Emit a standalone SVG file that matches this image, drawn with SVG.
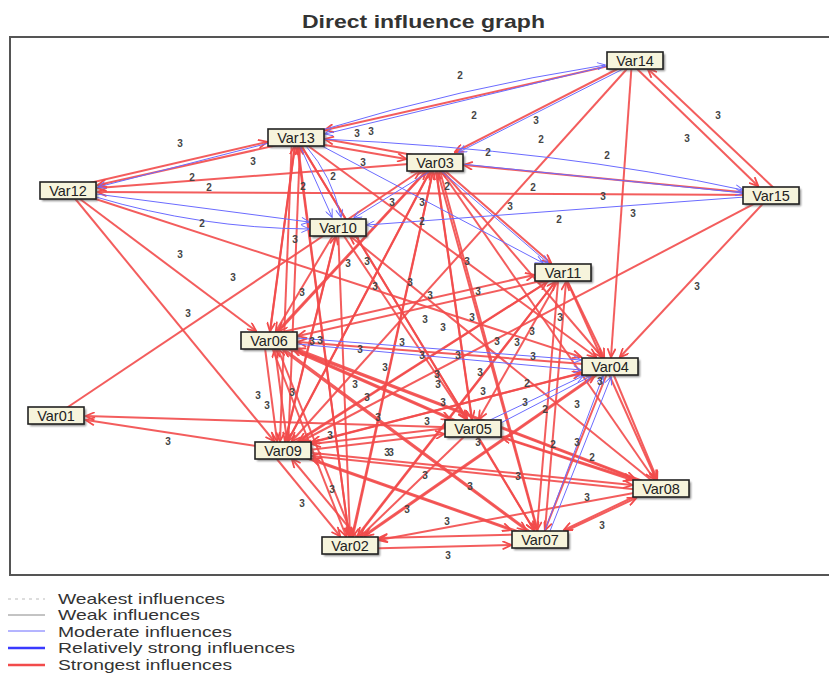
<svg xmlns="http://www.w3.org/2000/svg" width="829" height="675" viewBox="0 0 829 675">
<defs>
<marker id="ar" viewBox="0 0 10 10" refX="9.5" refY="5" markerWidth="11" markerHeight="9" markerUnits="userSpaceOnUse" orient="auto"><path d="M0,0.5 L10,5 L0,9.5" fill="none" stroke="#f24b4b" stroke-width="2"/></marker>
<marker id="ab" viewBox="0 0 10 10" refX="9.5" refY="5" markerWidth="10" markerHeight="8" markerUnits="userSpaceOnUse" orient="auto"><path d="M0,0.5 L10,5 L0,9.5" fill="none" stroke="#6b6bff" stroke-width="1.2"/></marker>
<filter id="shd" x="-20%" y="-30%" width="150%" height="180%"><feGaussianBlur stdDeviation="1"/></filter>
</defs>
<style>
.r{stroke:#f24b4b;stroke-width:2;fill:none;marker-end:url(#ar);stroke-opacity:0.9}
.b{stroke:#6b6bff;stroke-width:1;fill:none;marker-end:url(#ab)}
.lb text{font-family:"Liberation Sans",Arial,sans-serif;font-size:10px;fill:#444;text-anchor:middle;font-weight:bold}
.box{fill:#f6f4dc;stroke:#222;stroke-width:1.6}
.sh{fill:#555;opacity:0.7;filter:url(#shd)}
.nt{font-family:"Liberation Sans",Arial,sans-serif;font-size:14.5px;fill:#222;text-anchor:middle}
.lg{font-family:"Liberation Sans",Arial,sans-serif;font-size:15px;fill:#333}
</style>
<rect x="0" y="0" width="829" height="675" fill="#ffffff"/>
<text x="302" y="28" font-family="Liberation Sans, Arial, sans-serif" font-size="17.5" font-weight="bold" fill="#333" textLength="243" lengthAdjust="spacingAndGlyphs">Direct influence graph</text>
<rect x="10" y="37" width="830" height="538" fill="none" stroke="#555" stroke-width="2"/>
<g id="connectors">
<line class="r" x1="68" y1="188" x2="267" y2="142"/>
<line class="r" x1="296" y1="141" x2="98" y2="185"/>
<line class="r" x1="435" y1="162" x2="98" y2="188"/>
<line class="r" x1="771" y1="195" x2="98" y2="192"/>
<line class="r" x1="635" y1="60" x2="325" y2="130"/>
<line class="r" x1="635" y1="60" x2="455" y2="152"/>
<line class="r" x1="632" y1="64" x2="758" y2="186"/>
<line class="r" x1="776" y1="190" x2="648" y2="69"/>
<line class="r" x1="632" y1="60" x2="611" y2="357"/>
<line class="r" x1="771" y1="195" x2="620" y2="357"/>
<line class="r" x1="771" y1="195" x2="464" y2="165"/>
<line class="r" x1="635" y1="60" x2="292" y2="441"/>
<line class="r" x1="771" y1="195" x2="302" y2="441"/>
<line class="r" x1="296" y1="140" x2="406" y2="159"/>
<line class="r" x1="435" y1="159" x2="325" y2="139"/>
<line class="r" x1="296" y1="137" x2="270" y2="331"/>
<line class="r" x1="292" y1="137" x2="280" y2="441"/>
<line class="r" x1="296" y1="137" x2="349" y2="536"/>
<line class="r" x1="296" y1="137" x2="467" y2="419"/>
<line class="r" x1="296" y1="137" x2="534" y2="530"/>
<line class="r" x1="296" y1="137" x2="596" y2="357"/>
<line class="r" x1="435" y1="162" x2="279" y2="331"/>
<line class="r" x1="435" y1="162" x2="288" y2="441"/>
<line class="r" x1="435" y1="162" x2="353" y2="536"/>
<line class="r" x1="435" y1="162" x2="472" y2="419"/>
<line class="r" x1="435" y1="162" x2="537" y2="530"/>
<line class="r" x1="435" y1="162" x2="551" y2="263"/>
<line class="r" x1="435" y1="162" x2="602" y2="357"/>
<line class="r" x1="435" y1="162" x2="654" y2="479"/>
<line class="r" x1="338" y1="227" x2="350" y2="536"/>
<line class="r" x1="338" y1="227" x2="466" y2="419"/>
<line class="r" x1="338" y1="227" x2="285" y2="441"/>
<line class="r" x1="338" y1="227" x2="276" y2="331"/>
<line class="r" x1="269" y1="340" x2="295" y2="146"/>
<line class="r" x1="288" y1="450" x2="300" y2="146"/>
<line class="r" x1="350" y1="545" x2="298" y2="146"/>
<line class="r" x1="269" y1="340" x2="426" y2="171"/>
<line class="r" x1="283" y1="450" x2="430" y2="171"/>
<line class="r" x1="350" y1="545" x2="433" y2="171"/>
<line class="r" x1="473" y1="428" x2="436" y2="171"/>
<line class="r" x1="540" y1="539" x2="440" y2="171"/>
<line class="r" x1="56" y1="415" x2="420" y2="171"/>
<line class="r" x1="283" y1="450" x2="336" y2="236"/>
<line class="r" x1="661" y1="488" x2="350" y2="236"/>
<line class="r" x1="563" y1="276" x2="298" y2="336"/>
<line class="r" x1="269" y1="335" x2="534" y2="275"/>
<line class="r" x1="563" y1="272" x2="299" y2="441"/>
<line class="r" x1="563" y1="272" x2="358" y2="536"/>
<line class="r" x1="563" y1="272" x2="604" y2="357"/>
<line class="r" x1="563" y1="272" x2="656" y2="479"/>
<line class="r" x1="558" y1="282" x2="537" y2="530"/>
<line class="r" x1="545" y1="530" x2="566" y2="282"/>
<line class="r" x1="563" y1="272" x2="479" y2="419"/>
<line class="r" x1="265" y1="348" x2="277" y2="441"/>
<line class="r" x1="287" y1="441" x2="275" y2="349"/>
<line class="r" x1="269" y1="340" x2="346" y2="536"/>
<line class="r" x1="354" y1="540" x2="278" y2="349"/>
<line class="r" x1="276" y1="458" x2="340" y2="536"/>
<line class="r" x1="356" y1="536" x2="292" y2="459"/>
<line class="r" x1="269" y1="340" x2="450" y2="419"/>
<line class="r" x1="269" y1="340" x2="635" y2="479"/>
<line class="r" x1="269" y1="340" x2="526" y2="530"/>
<line class="r" x1="283" y1="450" x2="547" y2="282"/>
<line class="r" x1="283" y1="450" x2="581" y2="373"/>
<line class="r" x1="283" y1="453" x2="444" y2="434"/>
<line class="r" x1="473" y1="425" x2="312" y2="444"/>
<line class="r" x1="283" y1="450" x2="632" y2="485"/>
<line class="r" x1="661" y1="492" x2="312" y2="456"/>
<line class="r" x1="283" y1="450" x2="511" y2="530"/>
<line class="r" x1="473" y1="428" x2="293" y2="349"/>
<line class="r" x1="473" y1="428" x2="361" y2="536"/>
<line class="r" x1="473" y1="428" x2="534" y2="530"/>
<line class="r" x1="473" y1="428" x2="632" y2="480"/>
<line class="r" x1="473" y1="428" x2="86" y2="416"/>
<line class="r" x1="283" y1="450" x2="86" y2="420"/>
<line class="r" x1="610" y1="366" x2="312" y2="442"/>
<line class="r" x1="610" y1="366" x2="298" y2="342"/>
<line class="r" x1="610" y1="366" x2="365" y2="536"/>
<line class="r" x1="610" y1="366" x2="545" y2="530"/>
<line class="r" x1="610" y1="366" x2="657" y2="479"/>
<line class="r" x1="661" y1="488" x2="297" y2="349"/>
<line class="r" x1="661" y1="488" x2="379" y2="540"/>
<line class="r" x1="661" y1="484" x2="564" y2="530"/>
<line class="r" x1="540" y1="543" x2="636" y2="498"/>
<line class="r" x1="350" y1="549" x2="511" y2="545"/>
<line class="r" x1="540" y1="534" x2="379" y2="538"/>
<line class="r" x1="540" y1="539" x2="284" y2="349"/>
<line class="r" x1="540" y1="539" x2="312" y2="459"/>
<line class="r" x1="68" y1="190" x2="256" y2="331"/>
<line class="r" x1="68" y1="190" x2="274" y2="441"/>
<line class="r" x1="68" y1="190" x2="581" y2="357"/>
<line class="r" x1="350" y1="545" x2="555" y2="282"/>
<line class="r" x1="350" y1="545" x2="595" y2="375"/>
<line class="r" x1="661" y1="488" x2="502" y2="437"/>
<path class="b" d="M322,130 Q460,88 605,65"/>
<line class="b" x1="607" y1="66" x2="325" y2="134"/>
<line class="b" x1="625" y1="68" x2="459" y2="152"/>
<path class="b" d="M322,139 Q560,150 743,190"/>
<line class="b" x1="462" y1="164" x2="743" y2="193"/>
<line class="b" x1="745" y1="197" x2="367" y2="225"/>
<line class="b" x1="96" y1="194" x2="309" y2="222"/>
<path class="b" d="M96,197 Q200,228 309,229"/>
<line class="b" x1="269" y1="143" x2="98" y2="187"/>
<line class="b" x1="300" y1="146" x2="332" y2="217"/>
<path class="b" d="M306,146 Q332,176 341,217"/>
<line class="b" x1="432" y1="170" x2="354" y2="218"/>
<line class="b" x1="320" y1="145" x2="543" y2="263"/>
<line class="b" x1="440" y1="170" x2="548" y2="263"/>
<line class="b" x1="297" y1="338" x2="581" y2="360"/>
<line class="b" x1="297" y1="344" x2="581" y2="370"/>
<line class="b" x1="490" y1="420" x2="583" y2="376"/>
<line class="b" x1="495" y1="426" x2="591" y2="376"/>
<line class="b" x1="545" y1="530" x2="603" y2="376"/>
<line class="b" x1="550" y1="531" x2="611" y2="377"/>
<g class="lb">
<text x="460" y="79">2</text><text x="474" y="119">2</text><text x="541" y="143">2</text><text x="488" y="156">2</text><text x="607" y="159">2</text><text x="533" y="191">2</text><text x="559" y="223">2</text><text x="422" y="225">2</text><text x="447" y="190">2</text><text x="192" y="181">2</text><text x="209" y="191">2</text><text x="202" y="227">2</text><text x="303" y="190">2</text><text x="333" y="180">2</text><text x="527" y="387">2</text><text x="545" y="413">2</text><text x="553" y="448">2</text><text x="592" y="461">2</text>
<text x="536" y="124">3</text><text x="718" y="119">3</text><text x="687" y="142">3</text><text x="603" y="200">3</text><text x="633" y="217">3</text><text x="510" y="210">3</text><text x="697" y="290">3</text><text x="357" y="137">3</text><text x="371" y="135">3</text><text x="363" y="166">3</text><text x="180" y="147">3</text><text x="253" y="165">3</text><text x="392" y="206">3</text><text x="422" y="206">3</text><text x="295" y="243">3</text><text x="180" y="258">3</text><text x="233" y="281">3</text><text x="188" y="317">3</text><text x="168" y="445">3</text><text x="302" y="296">3</text><text x="348" y="267">3</text><text x="367" y="265">3</text><text x="375" y="290">3</text><text x="410" y="286">3</text><text x="430" y="299">3</text><text x="467" y="265">3</text><text x="478" y="295">3</text><text x="425" y="323">3</text><text x="443" y="331">3</text><text x="472" y="321">3</text><text x="497" y="345">3</text><text x="517" y="346">3</text><text x="532" y="335">3</text><text x="560" y="321">3</text><text x="533" y="360">3</text><text x="402" y="346">3</text><text x="360" y="353">3</text><text x="422" y="359">3</text><text x="458" y="359">3</text><text x="312" y="345">3</text><text x="320" y="344">3</text><text x="385" y="371">3</text><text x="437" y="378">3</text><text x="438" y="388">3</text><text x="480" y="376">3</text><text x="355" y="388">3</text><text x="367" y="401">3</text><text x="443" y="406">3</text><text x="483" y="395">3</text><text x="525" y="406">3</text><text x="577" y="408">3</text><text x="600" y="385">3</text><text x="378" y="421">3</text><text x="427" y="425">3</text><text x="258" y="399">3</text><text x="267" y="409">3</text><text x="292" y="396">3</text><text x="330" y="439">3</text><text x="387" y="456">3</text><text x="391" y="456">3</text><text x="478" y="446">3</text><text x="577" y="446">3</text><text x="425" y="479">3</text><text x="518" y="480">3</text><text x="470" y="490">3</text><text x="332" y="493">3</text><text x="302" y="507">3</text><text x="407" y="513">3</text><text x="587" y="501">3</text><text x="447" y="525">3</text><text x="602" y="529">3</text><text x="448" y="559">3</text>
</g>
</g>
<g id="var14"><rect class="sh" x="609" y="54" width="56" height="17"/><rect class="box" x="607" y="52" width="56" height="17"/><text class="nt" x="635" y="65.5">Var14</text></g>
<g id="var13"><rect class="sh" x="270" y="131" width="56" height="17"/><rect class="box" x="268" y="129" width="56" height="17"/><text class="nt" x="296" y="142.5">Var13</text></g>
<g id="var03"><rect class="sh" x="409" y="156" width="56" height="17"/><rect class="box" x="407" y="154" width="56" height="17"/><text class="nt" x="435" y="167.5">Var03</text></g>
<g id="var12"><rect class="sh" x="42" y="184" width="56" height="17"/><rect class="box" x="40" y="182" width="56" height="17"/><text class="nt" x="68" y="195.5">Var12</text></g>
<g id="var15"><rect class="sh" x="745" y="189" width="56" height="17"/><rect class="box" x="743" y="187" width="56" height="17"/><text class="nt" x="771" y="200.5">Var15</text></g>
<g id="var10"><rect class="sh" x="312" y="221" width="56" height="17"/><rect class="box" x="310" y="219" width="56" height="17"/><text class="nt" x="338" y="232.5">Var10</text></g>
<g id="var11"><rect class="sh" x="537" y="266" width="56" height="17"/><rect class="box" x="535" y="264" width="56" height="17"/><text class="nt" x="563" y="277.5">Var11</text></g>
<g id="var06"><rect class="sh" x="243" y="334" width="56" height="17"/><rect class="box" x="241" y="332" width="56" height="17"/><text class="nt" x="269" y="345.5">Var06</text></g>
<g id="var04"><rect class="sh" x="584" y="360" width="56" height="17"/><rect class="box" x="582" y="358" width="56" height="17"/><text class="nt" x="610" y="371.5">Var04</text></g>
<g id="var01"><rect class="sh" x="30" y="409" width="56" height="17"/><rect class="box" x="28" y="407" width="56" height="17"/><text class="nt" x="56" y="420.5">Var01</text></g>
<g id="var09"><rect class="sh" x="257" y="444" width="56" height="17"/><rect class="box" x="255" y="442" width="56" height="17"/><text class="nt" x="283" y="455.5">Var09</text></g>
<g id="var05"><rect class="sh" x="447" y="422" width="56" height="17"/><rect class="box" x="445" y="420" width="56" height="17"/><text class="nt" x="473" y="433.5">Var05</text></g>
<g id="var08"><rect class="sh" x="635" y="482" width="56" height="17"/><rect class="box" x="633" y="480" width="56" height="17"/><text class="nt" x="661" y="493.5">Var08</text></g>
<g id="var02"><rect class="sh" x="324" y="539" width="56" height="17"/><rect class="box" x="322" y="537" width="56" height="17"/><text class="nt" x="350" y="550.5">Var02</text></g>
<g id="var07"><rect class="sh" x="514" y="533" width="56" height="17"/><rect class="box" x="512" y="531" width="56" height="17"/><text class="nt" x="540" y="544.5">Var07</text></g>
<g id="legend">
<line x1="8" y1="599" x2="45" y2="599" stroke="#bbb" stroke-width="1" stroke-dasharray="3,4"/>
<line x1="8" y1="615" x2="45" y2="615" stroke="#888" stroke-width="1"/>
<line x1="8" y1="631" x2="45" y2="631" stroke="#6b6bff" stroke-width="1"/>
<line x1="8" y1="648" x2="45" y2="648" stroke="#3a3aff" stroke-width="2.5"/>
<line x1="8" y1="665" x2="45" y2="665" stroke="#f24b4b" stroke-width="2.5"/>
<text class="lg" x="58" y="604" textLength="167" lengthAdjust="spacingAndGlyphs">Weakest influences</text>
<text class="lg" x="58" y="620" textLength="142" lengthAdjust="spacingAndGlyphs">Weak influences</text>
<text class="lg" x="58" y="637" textLength="174" lengthAdjust="spacingAndGlyphs">Moderate influences</text>
<text class="lg" x="58" y="653" textLength="237" lengthAdjust="spacingAndGlyphs">Relatively strong influences</text>
<text class="lg" x="58" y="670" textLength="174" lengthAdjust="spacingAndGlyphs">Strongest influences</text>
</g>
</svg>
